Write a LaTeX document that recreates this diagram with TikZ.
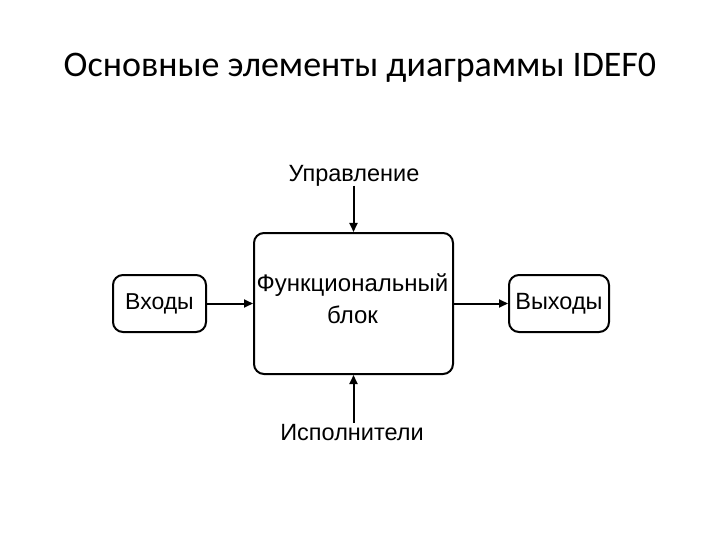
\documentclass[tikz,border=0pt]{standalone}
\usepackage{fontspec}
\setmainfont{Liberation Sans}
\newfontfamily\titlefont{Carlito}
\usetikzlibrary{arrows.meta}
\begin{document}
\begin{tikzpicture}[x=1pt,y=-1pt,
  box/.style={draw=black,line width=2pt,rounded corners=10pt,inner sep=0pt,font=\fontsize{24}{32}\selectfont,align=center},
  lbl/.style={inner sep=0pt,font=\fontsize{23.5}{26}\selectfont},
  conn/.style={line width=2pt,-{Triangle[length=9pt,width=8pt]}}]
\useasboundingbox (0,0) rectangle (720,540);
\node[anchor=base,inner sep=0pt,font=\titlefont\fontsize{36}{40}\selectfont] (title) at (360,77) {Основные элементы диаграммы IDEF0};
\node[box,minimum width=199pt,minimum height=141pt] (main) at (353.5,303.5) {};
\node[inner sep=0pt,align=center,font=\fontsize{24}{32}\selectfont,anchor=base] (maintext) at (352.5,323) {Функциональный\\блок};
\node[box,minimum width=93pt,minimum height=57pt,font=\fontsize{23}{26}\selectfont] (in) at (159.5,303.5) {Входы};
\node[box,minimum width=100pt,minimum height=57pt,font=\fontsize{23.5}{26}\selectfont] (out) at (559,303.5) {Выходы};
\node[lbl,anchor=base] (upr) at (354,181.5) {Управление};
\node[lbl,anchor=base] (isp) at (352,440) {Исполнители};
\draw[conn] (main.north |- upr.south) ++(0,-1) -- (main.north);
\draw[conn] (main.south |- isp.north) ++(0,-1) -- (main.south);
\draw[conn] (in.east) -- (main.west);
\draw[conn] (main.east) -- (out.west);
\end{tikzpicture}
\end{document}
